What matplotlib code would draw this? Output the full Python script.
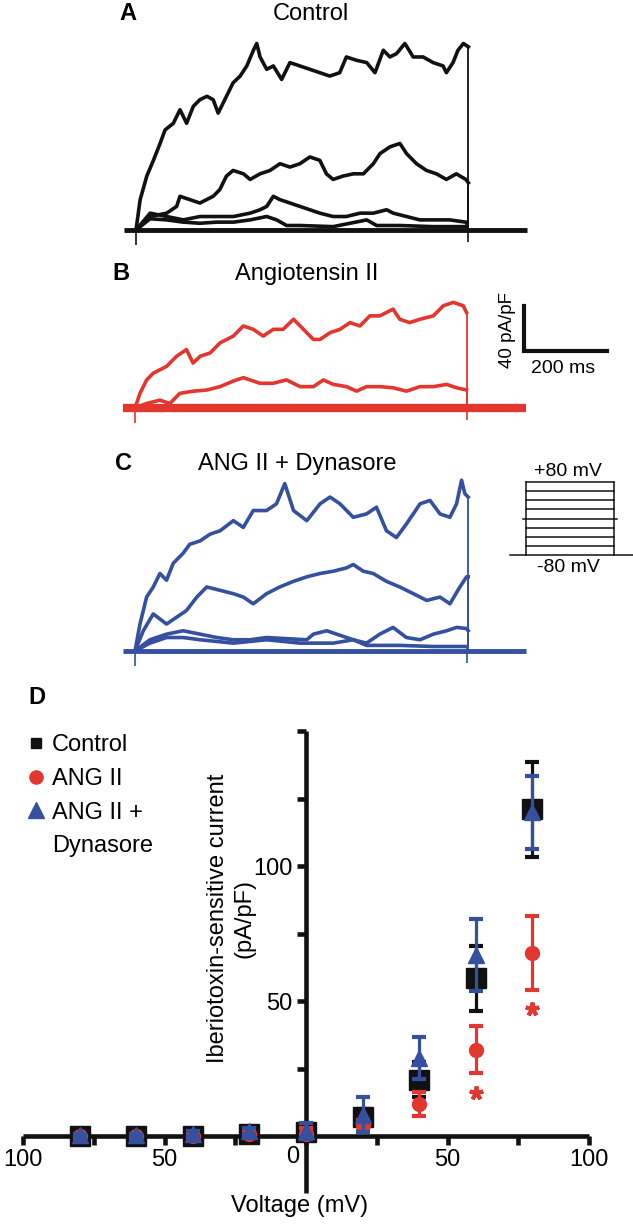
import numpy as np
import matplotlib
matplotlib.use("Agg")
import matplotlib.pyplot as plt
from matplotlib.lines import Line2D

plt.rcParams["font.family"] = ["Liberation Sans", "DejaVu Sans"]

W, H = 633, 1225
BLACK = "#111111"
RED = "#e2362f"
BLUE = "#34509f"

# ---- current traces (time in ms from step onset, current in pA/pF) ----
ctrl_t1 = [0, 10, 26, 42, 58, 70, 90, 106, 122, 138, 154, 171, 186, 198, 218, 234, 251, 267, 283, 291,
           299, 315, 331, 351, 371, 395, 419, 443, 467, 491, 507, 532, 556, 576, 596, 612, 628, 648, 668, 692,
           716, 740, 748, 764, 776, 789, 801]
ctrl_i1 = [0, 27, 48, 62, 77, 89, 95, 107, 95, 110, 116, 119, 116, 104, 119, 131, 137, 146, 160, 166,
           154, 143, 146, 134, 149, 146, 143, 140, 137, 140, 154, 151, 149, 140, 160, 154, 157, 166, 154, 154,
           149, 146, 140, 149, 160, 166, 163]
ctrl_t2 = [0, 34, 74, 98, 106, 130, 154, 186, 202, 218, 234, 259, 275, 299, 323, 347, 371, 395, 419, 443,
           459, 475, 499, 524, 548, 572, 588, 612, 636, 652, 676, 700, 724, 748, 772, 795, 801]
ctrl_i2 = [0, 12, 15, 21, 30, 27, 24, 30, 36, 48, 53, 50, 45, 50, 53, 59, 56, 59, 65, 62,
           50, 45, 48, 50, 50, 59, 68, 74, 77, 68, 59, 53, 50, 45, 50, 45, 42]
ctrl_t3 = [0, 34, 74, 114, 154, 195, 235, 275, 299, 315, 331, 347, 371, 395, 419, 443, 475, 507, 540, 572,
           604, 620, 652, 684, 716, 756, 795]
ctrl_i3 = [0, 15, 12, 9, 12, 12, 12, 15, 18, 21, 30, 27, 24, 21, 18, 15, 12, 12, 15, 15,
           18, 15, 12, 9, 9, 9, 7]
ctrl_t4 = [0, 34, 74, 114, 154, 195, 235, 275, 315, 339, 363, 395, 475, 516, 556, 580, 636, 716, 795]
ctrl_i4 = [0, 10, 9, 7, 6, 7, 7, 9, 12, 9, 4, 4, 3, 6, 9, 4, 4, 3, 3]

ang_t1 = [0, 12, 28, 44, 76, 100, 124, 140, 157, 181, 205, 237, 261, 285, 309, 333, 357, 382, 406, 430,
          446, 470, 494, 518, 542, 566, 590, 622, 638, 662, 687, 719, 743, 767, 791, 799]
ang_i1 = [0, 13, 25, 31, 37, 46, 52, 40, 46, 49, 58, 64, 73, 70, 64, 70, 70, 79, 70, 61,
          61, 67, 70, 76, 73, 82, 82, 88, 79, 76, 79, 82, 91, 94, 91, 85]
ang_t2 = [0, 28, 60, 84, 108, 141, 173, 205, 237, 261, 277, 301, 333, 365, 398, 430, 454, 478, 510, 534,
          558, 590, 622, 654, 687, 719, 751, 775, 799]
ang_i2 = [0, 4, 7, 4, 13, 15, 16, 19, 24, 27, 25, 22, 22, 25, 19, 19, 25, 21, 19, 15,
          19, 19, 18, 15, 19, 19, 21, 18, 16]

dyn_t1 = [0, 12, 28, 44, 60, 76, 92, 116, 132, 157, 181, 205, 237, 261, 285, 317, 341, 361, 382, 414,
          446, 470, 494, 526, 558, 582, 606, 630, 654, 687, 711, 735, 759, 775, 787, 795, 803]
dyn_i1 = [0, 24, 48, 57, 69, 63, 78, 87, 95, 98, 104, 107, 116, 110, 125, 125, 131, 149, 125, 116,
          131, 137, 131, 119, 122, 128, 107, 101, 113, 131, 134, 122, 119, 131, 152, 140, 137]
dyn_t2 = [0, 20, 44, 76, 100, 124, 149, 173, 205, 237, 261, 285, 317, 349, 382, 414, 446, 478, 510, 526,
          550, 574, 606, 638, 671, 703, 735, 759, 783, 799, 803]
dyn_i2 = [0, 18, 33, 24, 30, 36, 48, 57, 54, 51, 48, 42, 51, 57, 62, 66, 69, 71, 74, 77,
          71, 69, 62, 57, 51, 45, 48, 42, 57, 66, 66]
dyn_t3 = [0, 36, 76, 116, 157, 197, 237, 277, 317, 365, 414, 430, 462, 494, 526, 558, 590, 622, 654, 687,
          719, 751, 775, 799, 803]
dyn_i3 = [0, 10, 15, 18, 15, 12, 10, 10, 12, 11, 10, 15, 18, 14, 10, 7, 15, 21, 12, 10,
          15, 18, 21, 20, 18]
dyn_t4 = [0, 36, 76, 116, 157, 237, 317, 398, 478, 526, 558, 638, 719, 799]
dyn_i4 = [0, 7, 12, 12, 10, 7, 10, 7, 7, 10, 5, 5, 4, 4]

# holding baseline and the capacitive blips at step on/off
base_t = [-28, 942]
base_i = [0, 0]
blip_t = [0, 801]
blip_i = [-13, -11]

# voltage protocol
step_levels = [-80, -60, -40, -20, 0, 20, 40, 60, 80]
step_ms = 800

# ---- panel D: I-V ----
voltages = [-80, -60, -40, -20, 0, 20, 40, 60, 80]
ctrl_mean = [0, 0, 0, 1, 1.5, 7, 21, 58.5, 121]
ctrl_sem = [1, 1, 1, 1, 2, 3, 6.5, 12, 17.5]
ang_mean = [0, 0, 0, 1, 1, 4, 12, 32, 68]
ang_sem = [0.5, 0.5, 0.5, 1, 2, 2, 4.5, 8.7, 13.7]
dyn_mean = [0.5, 0.5, 1, 2, 2, 8, 29, 67, 120]
dyn_sem = [0.5, 0.5, 1, 1, 3, 6.5, 7.7, 13.4, 13.5]
sig_v = [60, 80]
sig_y = [16, 47]

fig = plt.figure(figsize=(W / 100, H / 100), dpi=100)


def px_axes(x0, y0, x1, y1):
    return fig.add_axes([x0 / W, 1 - y1 / H, (x1 - x0) / W, (y1 - y0) / H])


def px_text(x, y, s, **kw):
    fig.text(x / W, 1 - y / H, s, **kw)


MS_PX = 2.41   # ms per pixel
PA_PX = 0.89   # pA/pF per pixel


def trace_axes(onset_x, base_y):
    ax = px_axes(60, base_y - 225, 633, base_y + 20)
    ax.set_xlim((60 - onset_x) * MS_PX, (633 - onset_x) * MS_PX)
    ax.set_ylim(-20 * PA_PX, 225 * PA_PX)
    ax.axis("off")
    return ax


def draw_traces(ax, traces, color, base_lw):
    ax.plot(base_t, base_i, color=color, lw=base_lw, solid_capstyle="butt")
    ax.vlines(blip_t, blip_i, 0, color=color, lw=1.2)
    for t, i in traces:
        ax.plot(t, i, color=color, lw=2.6, solid_joinstyle="round")
        ax.vlines(t[-1], 0, i[-1], color=color, lw=1.3)


axA = trace_axes(136, 230)
draw_traces(axA, [(ctrl_t4, ctrl_i4), (ctrl_t3, ctrl_i3), (ctrl_t2, ctrl_i2), (ctrl_t1, ctrl_i1)], BLACK, 3.5)
axB = trace_axes(135, 408)
draw_traces(axB, [(ang_t2, ang_i2), (ang_t1, ang_i1)], RED, 6)
axC = trace_axes(135, 651)
draw_traces(axC, [(dyn_t4, dyn_i4), (dyn_t3, dyn_i3), (dyn_t2, dyn_i2), (dyn_t1, dyn_i1)], BLUE, 3.5)

# scale bar in panel B
sb_t0 = (524 - 135) * MS_PX
sb_i0 = (408 - 351) * PA_PX
axB.plot([sb_t0, sb_t0, sb_t0 + 200], [sb_i0 + 40, sb_i0, sb_i0], color=BLACK, lw=3,
         solid_joinstyle="miter", clip_on=False)
px_text(507, 330, "40 pA/pF", rotation=90, ha="center", va="center", fontsize=13.5)
px_text(563, 368, "200 ms", ha="center", va="center", fontsize=14)

# protocol inset
axP = px_axes(505, 465, 633, 575)
axP.set_xlim((505 - 526) * 9.09, (633 - 526) * 9.09)
axP.set_ylim(-80 - 20 * 2.19, 80 + 17 * 2.19)
axP.axis("off")
for lv in step_levels:
    if lv == -80:
        axP.plot([-145, 975], [lv, lv], color=BLACK, lw=1.1)
    elif lv == 0:
        axP.plot([-27, step_ms + 27], [lv, lv], color=BLACK, lw=1.1)
    else:
        axP.plot([0, step_ms], [lv, lv], color=BLACK, lw=1.1)
axP.plot([0, 0], [min(step_levels), max(step_levels)], color=BLACK, lw=1.1)
axP.plot([step_ms, step_ms], [min(step_levels), max(step_levels)], color=BLACK, lw=1.1)
px_text(568, 472, "+80 mV", ha="center", va="center", fontsize=14)
px_text(568, 567, "-80 mV", ha="center", va="center", fontsize=14)

# panel labels and titles
for x, y, s in [(128, 13, "A"), (121, 273, "B"), (124, 463, "C"), (37, 697, "D")]:
    px_text(x, y, s, ha="center", va="center", fontsize=17, fontweight="bold")
px_text(311, 14, "Control", ha="center", va="center", fontsize=17)
px_text(307, 274, "Angiotensin II", ha="center", va="center", fontsize=17)
px_text(297, 464, "ANG II + Dynasore", ha="center", va="center", fontsize=17)

# ---- panel D ----
axD = px_axes(23, 731, 589, 1193)
axD.set_xlim(-100, 100)
axD.set_ylim(-21, 150)
for sp in ["top", "right"]:
    axD.spines[sp].set_visible(False)
axD.spines["left"].set_position(("data", 0))
axD.spines["bottom"].set_position(("data", 0))
for sp in ["left", "bottom"]:
    axD.spines[sp].set_linewidth(3.3)
    axD.spines[sp].set_color(BLACK)
    axD.spines[sp].set_capstyle("butt")
axD.set_xticks(np.arange(-100, 101, 25))
axD.set_xticklabels(["100", "", "50", "", "", "", "50", "", "100"])
axD.set_yticks(np.arange(25, 151, 25))
axD.set_yticklabels(["", "50", "", "100", "", ""])
axD.tick_params(direction="out", length=6.5, width=3.3, color=BLACK, labelsize=17, pad=3)
axD.text(-4.6, -7.8, "0", ha="center", va="center", fontsize=17)

eb = dict(capsize=4.7, elinewidth=2.3, capthick=3, clip_on=False, ls="none")
axD.errorbar(voltages, ctrl_mean, yerr=ctrl_sem, fmt="s", color=BLACK, ms=14, zorder=3, **eb)
axD.errorbar(voltages, ang_mean, yerr=ang_sem, fmt="o", color=RED, ms=10, zorder=4, **eb)
axD.errorbar(voltages, dyn_mean, yerr=dyn_sem, fmt="^", color=BLUE, ms=11.5, zorder=5, **eb)
axD.plot(sig_v, sig_y, ls="none", marker=(5, 2, 0), ms=10, mew=2.8, color=RED, clip_on=False)

px_text(300, 1206, "Voltage (mV)", ha="center", va="center", fontsize=17)
px_text(231, 918, "Iberiotoxin-sensitive current\n(pA/pF)", rotation=90, ha="center", va="center",
        fontsize=17, multialignment="center", linespacing=1.25)

handles = [
    Line2D([], [], ls="none", marker="s", ms=7.5, color=BLACK),
    Line2D([], [], ls="none", marker="o", ms=9.5, color=RED),
    Line2D([], [], ls="none", marker="^", ms=11, color=BLUE),
    Line2D([], [], ls="none"),
]
labels = ["Control", "ANG II", "ANG II +", "Dynasore"]
fig.legend(handles, labels, loc="upper left", bbox_to_anchor=(27 / W, 1 - 734 / H),
           bbox_transform=fig.transFigure, frameon=False, fontsize=17, borderpad=0,
           handlelength=0.8, handletextpad=0.25, labelspacing=0.5, borderaxespad=0)

fig.savefig("out.png", dpi=100)
